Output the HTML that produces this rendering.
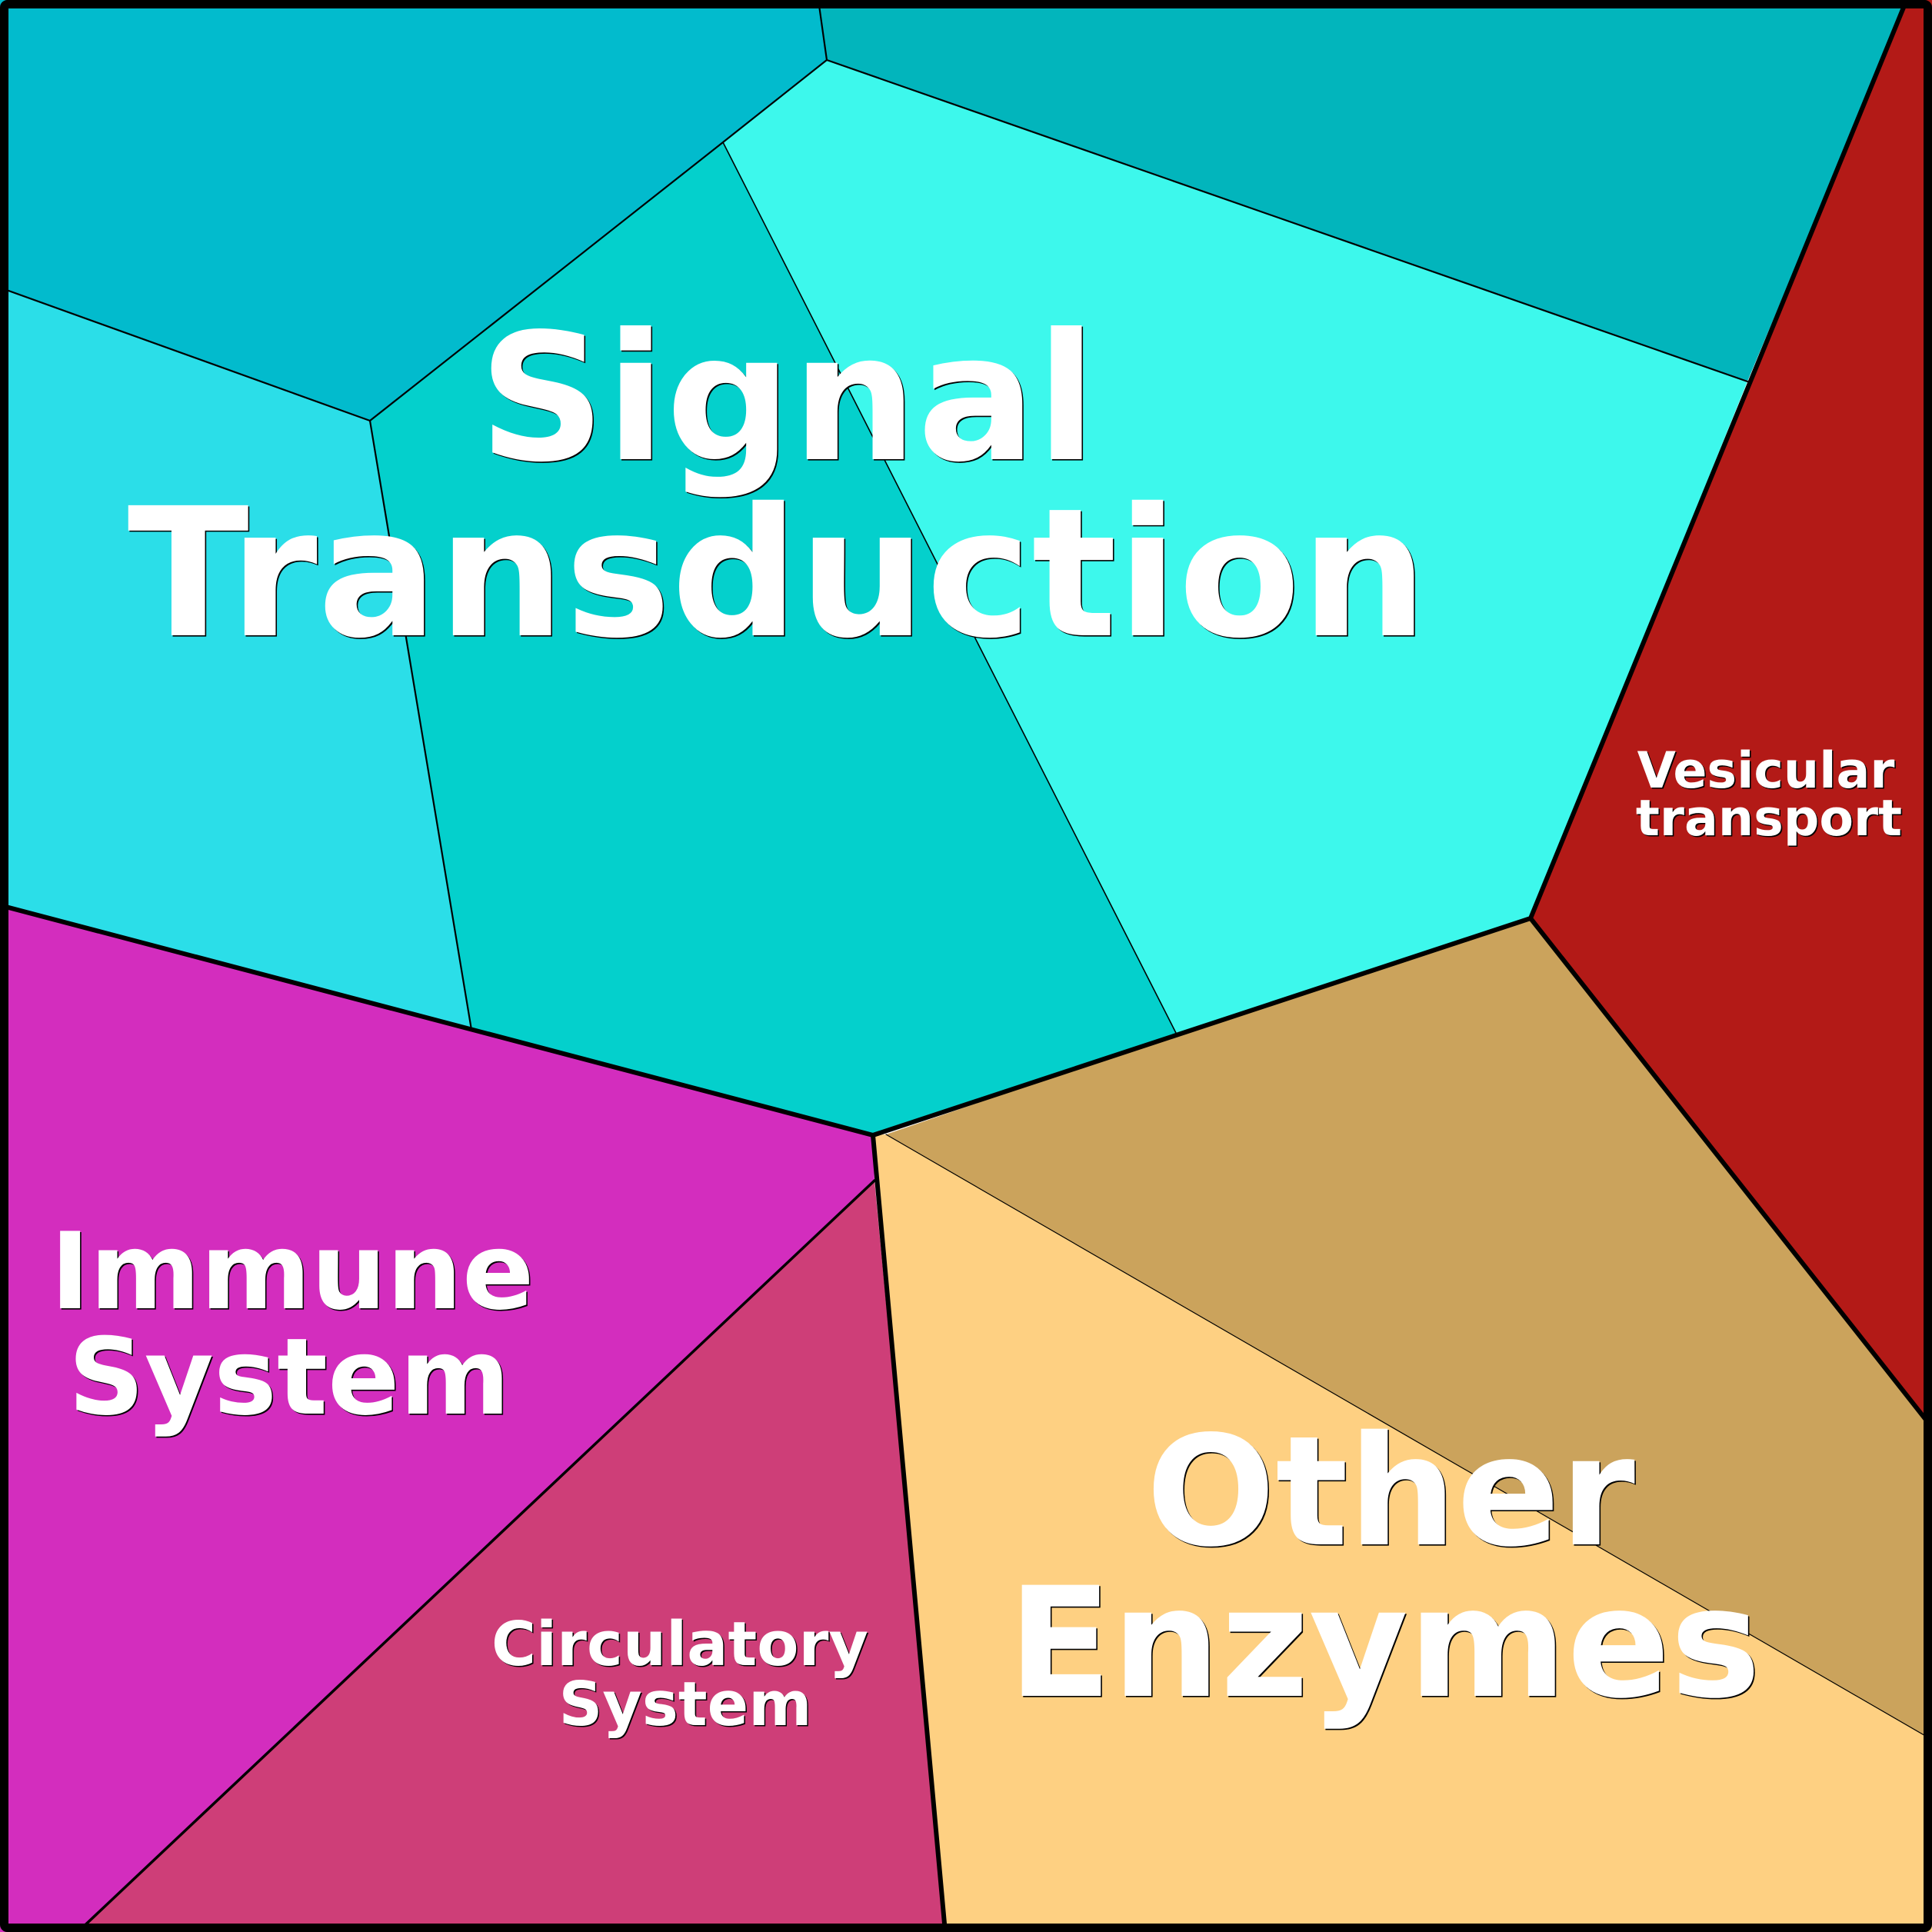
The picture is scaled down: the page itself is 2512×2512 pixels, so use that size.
<!DOCTYPE html>
<html>
<head>
<meta charset="utf-8">
<style>
  html, body { margin: 0; padding: 0; background: #ffffff; }
  svg { display: block; }
  text { font-family: "DejaVu Sans", "Liberation Sans", sans-serif; font-weight: bold; text-anchor: middle; }
  .sh { fill: #000000; }
  .fg { fill: #ffffff; }
</style>
</head>
<body>
<svg width="2512" height="2512" viewBox="0 0 2512 2512" xmlns="http://www.w3.org/2000/svg">
  <!-- polygons -->
  <polygon points="0,0 1064,0 1075,78 940,185 481,547 0,374" fill="#02BBCD"/>
  <polygon points="1064,0 2479,0 2272,496 1075,78" fill="#02B5BC"/>
  <polygon points="940,185 1075,78 2272,496 1990,1194 1530,1345" fill="#3DF8EC"/>
  <polygon points="481,547 940,185 1530,1345 1135,1476 613,1339" fill="#04D0CC"/>
  <polygon points="0,374 481,547 613,1339 0,1177" fill="#2BDEE8"/>
  <polygon points="2479,0 2512,0 2512,1856 1990,1194" fill="#B31A17"/>
  <polygon points="1152,1475 1530,1345 1990,1194 2512,1856 2512,2262" fill="#CBA35C"/>
  <polygon points="1135,1476 1152,1475 2512,2262 2512,2512 1229,2512" fill="#FED082"/>
  <polygon points="0,1177 1135,1476 1137,1535 101,2512 0,2512" fill="#D32DBE"/>
  <polygon points="1137,1535 1229,2512 101,2512" fill="#CE3E78"/>

  <!-- lines -->
  <g fill="none" stroke="#000" stroke-linejoin="round" stroke-linecap="round">
    <polyline points="0,374 481,547 940,185 1075,78 1064,0" stroke-width="2.2"/>
    <line x1="481" y1="547" x2="613" y2="1339" stroke-width="2.2"/>
    <line x1="1075" y1="78" x2="2272" y2="496" stroke-width="2.2"/>
    <line x1="940" y1="185" x2="1530" y2="1345" stroke-width="1.6"/>
    <line x1="1152" y1="1475" x2="2512" y2="2262" stroke-width="1.2"/>
    <line x1="1137" y1="1535" x2="101" y2="2512" stroke-width="3.5"/>
    <polyline points="0,1177 1135,1476 1990,1194 2479,0" stroke-width="6"/>
    <line x1="1990" y1="1194" x2="2512" y2="1856" stroke-width="6"/>
    <line x1="1135" y1="1476" x2="1229" y2="2512" stroke-width="6"/>
  </g>

  <!-- frame -->
  <rect x="5.5" y="5.5" width="2501" height="2501" rx="4" ry="4" fill="none" stroke="#000" stroke-width="11"/>

  <!-- labels: shadow -->
  <g class="sh" transform="translate(1.6,1.6)">
    <text x="1024" y="597" font-size="229">Signal</text>
    <text x="1011" y="826" font-size="232">Transduction</text>
    <text x="380" y="1701" font-size="138">Immune</text>
    <text x="376" y="1838" font-size="138">System</text>
    <text x="884" y="2165" font-size="79">Circulatory</text>
    <text x="891" y="2243" font-size="79">System</text>
    <text x="1808" y="2008" font-size="198">Other</text>
    <text x="1800" y="2205" font-size="198">Enzymes</text>
    <text x="2296" y="1024" font-size="65">Vesicular</text>
    <text x="2300" y="1086" font-size="65">transport</text>
  </g>
  <!-- labels: foreground -->
  <g class="fg">
    <text x="1024" y="597" font-size="229">Signal</text>
    <text x="1011" y="826" font-size="232">Transduction</text>
    <text x="380" y="1701" font-size="138">Immune</text>
    <text x="376" y="1838" font-size="138">System</text>
    <text x="884" y="2165" font-size="79">Circulatory</text>
    <text x="891" y="2243" font-size="79">System</text>
    <text x="1808" y="2008" font-size="198">Other</text>
    <text x="1800" y="2205" font-size="198">Enzymes</text>
    <text x="2296" y="1024" font-size="65">Vesicular</text>
    <text x="2300" y="1086" font-size="65">transport</text>
  </g>
</svg>
</body>
</html>
